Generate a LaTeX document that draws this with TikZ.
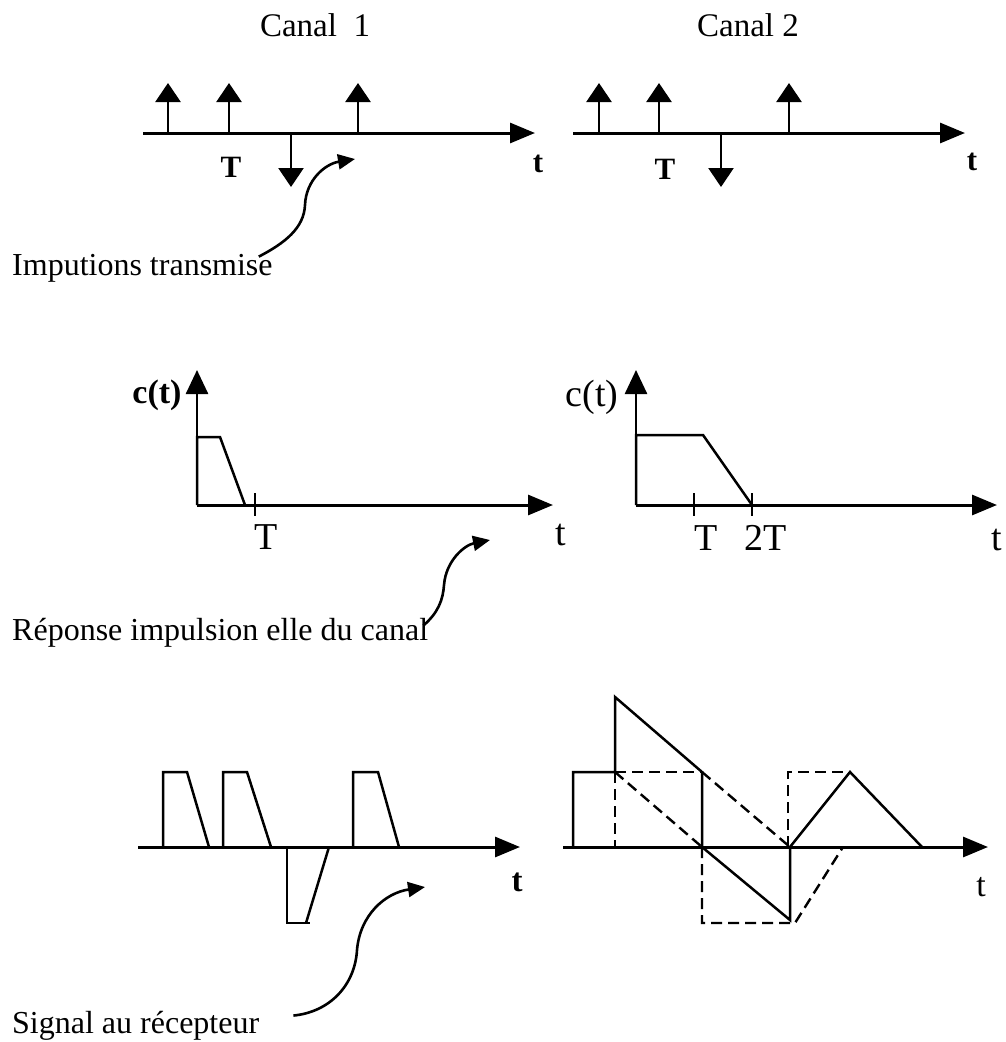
\documentclass[tikz,border=0pt]{standalone}
\usepackage{fontspec}
\setmainfont{Liberation Serif}
\usetikzlibrary{arrows.meta,positioning}
\tikzset{
  taxis/.style={line width=3pt, -{Triangle[length=25pt,width=20pt]}},
  caxis/.style={line width=2.6pt, -{Triangle[length=24pt,width=22pt]}},
  stem/.style={line width=2.6pt, -{Triangle[length=19pt,width=25pt]}},
  sig/.style={line width=2.5pt, line join=miter},
  dsig/.style={line width=2.4pt, dash pattern=on 11pt off 6pt},
  pointer/.style={line width=2.6pt, -{Triangle[length=17pt,width=15pt]}},
  note/.style={font=\fontsize{32}{38}\selectfont, inner sep=0pt, anchor=base west},
  chantitle/.style={font=\fontsize{33}{38}\selectfont, inner sep=0pt},
  smalllbl/.style={font=\fontsize{31}{36}\selectfont\bfseries, inner sep=0pt},
  biglbl/.style={font=\fontsize{38}{44}\selectfont, inner sep=0pt}
}

\begin{document}
\begin{tikzpicture}[x=1pt, y=-1pt]
  \useasboundingbox (0,0) rectangle (1005,1042);

  % transmitted impulses
  \node[chantitle] (can1) at (315,25) {Canal~~1};
  \node[chantitle] (can2) at (748,25) {Canal 2};

  \coordinate (ia1) at (143,133);
  \coordinate (ib1) at (535,133);
  \draw[taxis] (ia1) -- (ib1);
  \foreach \x in {168,229,358} \draw[stem] (\x,133) -- (\x,83);
  \draw[stem] (291,133) -- (291,187);
  \node[smalllbl] (iT1) at (231,167) {T};
  \node[smalllbl] (it1) at (538,164) {t};

  \coordinate (ia2) at (573,133);
  \coordinate (ib2) at (965,133);
  \draw[taxis] (ia2) -- (ib2);
  \foreach \x in {599,659,789} \draw[stem] (\x,133) -- (\x,83);
  \draw[stem] (721,133) -- (721,187);
  \node[smalllbl] (iT2) at (665,169) {T};
  \node[smalllbl] (it2) at (972,162) {t};

  \node[note] (imp) at (12,275) {Imputions transmise};
  \coordinate (imptip) at (355,159);
  \draw[pointer] ([xshift=-14pt,yshift=-3pt]imp.north east) .. controls (285,243) and (304,228) .. (305,205)
    .. controls (306,180) and (325,164) .. (imptip);

  % channel responses
  \coordinate (o1) at (197,505);
  \draw[caxis] (o1) -- (197,370);
  \draw[taxis] (o1) -- (553,505);
  \draw[sig] (o1) -- (197,437) -- (220,437) -- (245,505);
  \draw[sig] (255,493) -- (255,516);
  \node[biglbl, font=\fontsize{34}{40}\selectfont\bfseries] (c1) at (157,395) {c(t)};
  \node[biglbl] (cT1) at (266,537) {T};
  \node[biglbl] (ct1) at (561,535) {t};

  \coordinate (o2) at (636,505);
  \draw[caxis] (o2) -- (636,370);
  \draw[taxis] (o2) -- (997,505);
  \draw[sig] (o2) -- (636,435) -- (703,435) -- (752,505);
  \draw[sig] (694,493) -- (694,516);
  \draw[sig] (752,493) -- (752,516);
  \node[biglbl] (c2) at (592,397) {c(t)};
  \node[biglbl] (cT2) at (706,538) {T};
  \node[biglbl] (c2T2) at (766,538) {2T};
  \node[biglbl] (ct2) at (997,540) {t};

  \node[note] (rep) at (12,640) {Réponse impulsion elle du canal};
  \coordinate (reptip) at (490,540);
  \draw[pointer] ([xshift=-5pt,yshift=-8pt]rep.north east) .. controls (438,613) and (443,600) .. (444,585)
    .. controls (446,560) and (465,545) .. (reptip);

  % received signal
  \coordinate (ra1) at (138,847);
  \draw[taxis] (ra1) -- (520,847);
  \draw[sig] (163,847) -- (163,772) -- (187,772) -- (209,847);
  \draw[sig] (223,847) -- (223,772) -- (247,772) -- (271,847);
  \draw[sig] (353,847) -- (353,772) -- (378,772) -- (399,847);
  \draw[sig] (287,847) -- (287,923) -- (310,923);
  \draw[sig] (306,923) -- (329,847);
  \node[smalllbl, font=\fontsize{33}{38}\selectfont\bfseries] (rt1) at (517,882) {t};

  \coordinate (ra2) at (563,847);
  \draw[taxis] (ra2) -- (988,847);
  \draw[sig] (573,847) -- (573,772) -- (615,772) -- (615,697) -- (702,772) -- (702,847)
    -- (790,920) -- (790,847) -- (850,772) -- (922,847);
  \draw[dsig] (615,772) -- (702,772);
  \draw[dsig] (615,772) -- (615,847);
  \draw[dsig] (615,772) -- (702,847);
  \draw[dsig] (702,772) -- (790,847);
  \draw[dsig] (702,847) -- (702,923) -- (795,923) -- (843,847);
  \draw[dsig] (788,847) -- (788,772) -- (850,772);
  \node[biglbl, font=\fontsize{34}{40}\selectfont] (rt2) at (981,887) {t};

  \node[note] (sig) at (12,1033) {Signal au récepteur};
  \coordinate (sigtip) at (425,887);
  \draw[pointer] ([xshift=34pt,yshift=-5pt]sig.north east) .. controls (330,1012) and (355,985) .. (357,950)
    .. controls (360,915) and (385,893) .. (sigtip);
\end{tikzpicture}
\end{document}
